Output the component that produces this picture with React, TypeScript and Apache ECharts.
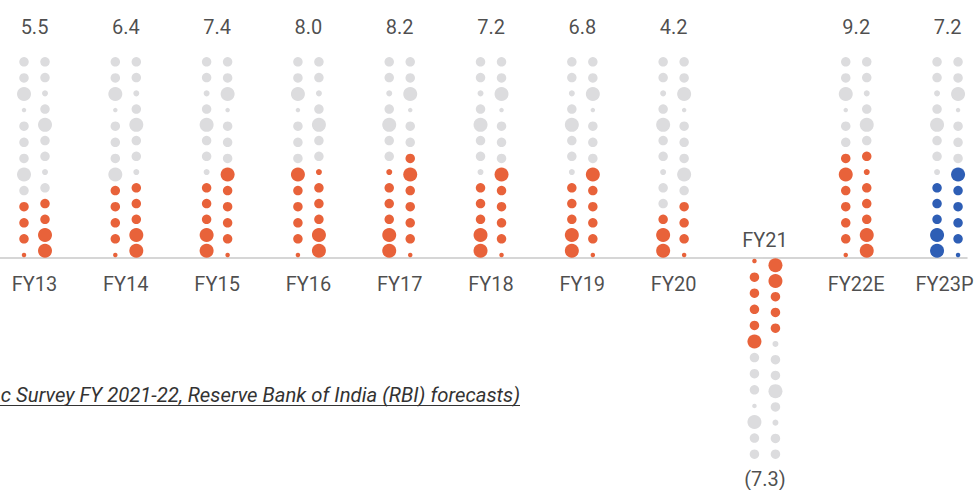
import React, { useEffect, useRef } from "react";
import * as echarts from "echarts";

const categories = ["FY13", "FY14", "FY15", "FY16", "FY17", "FY18", "FY19", "FY20", "FY21", "FY22E", "FY23P"];
const growth = [5.5, 6.4, 7.4, 8.0, 8.2, 7.2, 6.8, 4.2, -7.3, 9.2, 7.2];
// number of coloured dots in each of the two columns per year
const leftDots = [4, 5, 5, 6, 6, 5, 5, 3, 6, 7, 5];
const rightDots = [4, 5, 6, 6, 7, 6, 6, 4, 5, 7, 6];
// which dot pattern each left column uses (the right column uses the other)
const leftPattern = ["P", "P", "Q", "P", "Q", "Q", "Q", "Q", "P", "P", "Q"];
const projected = [false, false, false, false, false, false, false, false, false, false, true];

// dot size classes, from the axis outward
const patternP = ["tiny", "med", "med", "med", "med", "large", "med", "med", "med", "tiny", "large", "med", "med"];
const patternQ = ["large", "large", "med", "med", "med", "small", "med", "med", "large", "med", "small", "med", "med"];

const SIZE: Record<string, number> = { tiny: 4.5, small: 6, med: 9.5, large: 14 };
const LAYOUT = {
  P: { base: 0.19, step: 1.006 },
  Q: { base: 0.45, step: 0.984 },
};
const ORANGE = "#E8623A";
const BLUE = "#2E5EB5";
const GRAY = "#DCDCDE";
const COL_OFFSET = 0.115;

function buildDots() {
  const out: any[] = [];
  categories.forEach((_, i) => {
    const sign = growth[i] < 0 ? -1 : 1;
    const colour = projected[i] ? BLUE : ORANGE;
    const cols = [
      { pat: leftPattern[i], n: leftDots[i], dx: -COL_OFFSET },
      { pat: leftPattern[i] === "P" ? "Q" : "P", n: rightDots[i], dx: COL_OFFSET },
    ];
    cols.forEach((c) => {
      const sizes = c.pat === "P" ? patternP : patternQ;
      const lay = (LAYOUT as any)[c.pat];
      sizes.forEach((s, k) => {
        out.push({
          value: [i + c.dx, sign * (lay.base + lay.step * k), SIZE[s]],
          itemStyle: { color: k < c.n ? colour : GRAY, opacity: 1 },
        });
      });
    });
  });
  return out;
}

const FY_LABEL_Y = -1.6;
const FY_LABEL_Y_NEG = 1.125;
const VAL_LABEL_Y = 14.45;
const VAL_LABEL_Y_NEG = -13.8;

export default function App() {
  const ref = useRef<HTMLDivElement>(null);
  useEffect(() => {
    if (!ref.current) return;
    const chart = echarts.init(ref.current, undefined, { renderer: "svg" });
    const fyLabels = categories.map((c, i) => ({
      value: [i, growth[i] < 0 ? FY_LABEL_Y_NEG : FY_LABEL_Y],
      name: c,
      label: i === categories.length - 1 ? { offset: [-3, 0] } : undefined,
    }));
    const valLabels = growth.map((v, i) => ({
      value: [i, v < 0 ? VAL_LABEL_Y_NEG : VAL_LABEL_Y],
      name: v < 0 ? `(${Math.abs(v).toFixed(1)})` : v.toFixed(1),
    }));
    const textStyle = {
      show: true,
      position: "inside",
      formatter: "{b}",
      fontFamily: "Roboto",
      fontSize: 20,
      color: "#1e1e1e",
    };
    chart.setOption({
      animation: false,
      grid: { left: 0, top: 0, width: 967, height: 490 },
      xAxis: {
        type: "value",
        min: -0.3779,
        max: 10.213,
        axisLine: { show: true, onZero: true, lineStyle: { color: "#C8C8C8", width: 1.5 } },
        axisTick: { show: false },
        axisLabel: { show: false },
        splitLine: { show: false },
      },
      yAxis: {
        type: "value",
        min: -14.5,
        max: 16.125,
        show: false,
        splitLine: { show: false },
      },
      series: [
        {
          type: "scatter",
          silent: true,
          clip: false,
          symbol: "circle",
          symbolSize: (d: number[]) => d[2],
          itemStyle: { opacity: 1 },
          data: buildDots(),
        },
        {
          type: "scatter",
          silent: true,
          clip: false,
          symbolSize: 0,
          label: textStyle,
          data: fyLabels,
        },
        {
          type: "scatter",
          silent: true,
          clip: false,
          symbolSize: 0,
          label: textStyle,
          data: valLabels,
        },
      ],
      graphic: [
        {
          type: "text",
          x: 520,
          y: 395,
          style: {
            text: "c Survey FY 2021-22, Reserve Bank of India (RBI) forecasts)",
            font: "italic 20.3px Roboto",
            fill: "#333",
            align: "right",
            verticalAlign: "middle",
          },
        },
        {
          type: "line",
          shape: { x1: 0, y1: 405.5, x2: 520, y2: 405.5 },
          style: { stroke: "#333", lineWidth: 1 },
        },
      ],
    });
    return () => chart.dispose();
  }, []);
  return (
    <div
      ref={ref}
      style={{ position: "absolute", left: 0, top: 0, width: 975, height: 490 }}
    />
  );
}
